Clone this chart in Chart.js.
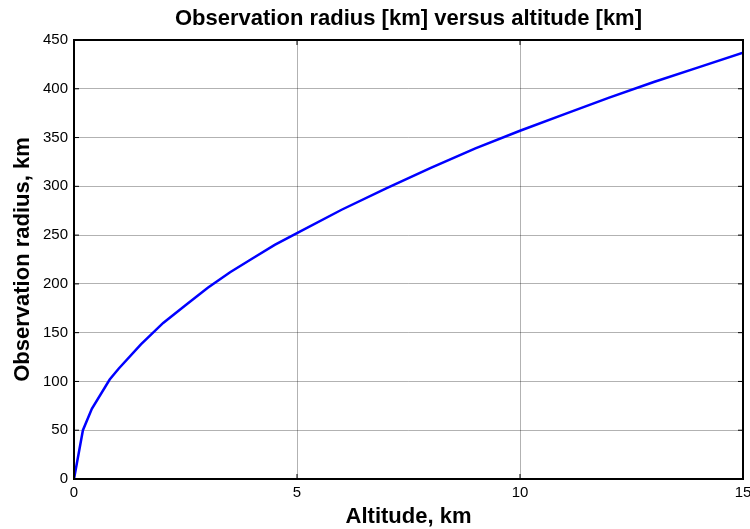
<!DOCTYPE html>
<html>
<head>
<meta charset="utf-8">
<script src="https://cdn.jsdelivr.net/npm/chart.js@4/dist/chart.umd.min.js"></script>
<style>
  html, body { margin: 0; padding: 0; background: #fff; }
  #wrap { width: 750px; height: 529px; }
</style>
</head>
<body>
<div id="wrap"><canvas id="radius-chart"></canvas></div>
<script>
// altitude in km, observation radius in km
const altitude = [0, 0.2, 0.4, 0.8, 1.0, 1.5, 2.0, 2.5, 3.0, 3.5, 4.0, 4.5, 5, 6, 7, 8, 9, 10, 11, 12, 13, 14, 15];
const radius = [0, 50, 72, 102, 113, 138, 160, 178, 196, 212, 226, 240, 252, 276, 298, 319, 339, 357, 374, 391, 407, 422, 437];

const chartTitle = 'Observation radius [km] versus altitude [km]';
const xTitle = 'Altitude, km';
const yTitle = 'Observation radius, km';

const fontFamily = 'Arial, "Liberation Sans", Helvetica, sans-serif';

// matlab style box with inward tick marks, title centred over the axes
const boxPlugin = {
    id: 'box',
    afterLayout(chart) {
        const t = chart.titleBlock;
        if (t) {
            t.left = chart.chartArea.left;
            t.right = chart.chartArea.right;
            t.width = t.right - t.left;
        }
    },
    afterDraw(chart) {
        const ctx = chart.ctx;
        const a = chart.chartArea;
        const xs = chart.scales.x;
        const ys = chart.scales.y;
        ctx.save();
        ctx.strokeStyle = '#000';
        ctx.lineWidth = 1;
        xs.ticks.forEach(t => {
            const px = xs.getPixelForValue(t.value);
            ctx.beginPath();
            ctx.moveTo(px, a.bottom); ctx.lineTo(px, a.bottom - 5);
            ctx.moveTo(px, a.top); ctx.lineTo(px, a.top + 5);
            ctx.stroke();
        });
        ys.ticks.forEach(t => {
            const py = ys.getPixelForValue(t.value);
            ctx.beginPath();
            ctx.moveTo(a.left, py); ctx.lineTo(a.left + 5, py);
            ctx.moveTo(a.right, py); ctx.lineTo(a.right - 5, py);
            ctx.stroke();
        });
        ctx.lineWidth = 2;
        ctx.strokeRect(a.left, a.top, a.right - a.left, a.bottom - a.top);
        ctx.restore();
    }
};

new Chart(document.querySelector('#radius-chart').getContext('2d'), {
    type: 'line',
    data: {
        datasets: [{
            label: 'radius',
            data: altitude.map((h, i) => ({ x: h, y: radius[i] })),
            borderColor: '#0000ff',
            backgroundColor: '#0000ff',
            borderWidth: 2.5,
            pointRadius: 0,
            tension: 0,
            fill: false
        }]
    },
    options: {
        responsive: true,
        maintainAspectRatio: false,
        animation: false,
        layout: { padding: { top: 0, left: 0, right: 7, bottom: 0 } },
        plugins: {
            legend: { display: false },
            tooltip: { enabled: false },
            title: {
                display: true,
                text: chartTitle,
                color: '#000',
                font: { family: fontFamily, size: 22, weight: 'bold' },
                padding: { top: 6, bottom: 7.6 }
            }
        },
        scales: {
            x: {
                type: 'linear',
                min: 0,
                max: 15,
                ticks: {
                    stepSize: 5,
                    color: '#000',
                    padding: 5,
                    maxRotation: 0,
                    font: { family: fontFamily, size: 15 }
                },
                grid: { color: 'rgba(0,0,0,0.3)', drawTicks: false },
                border: { display: false },
                title: {
                    display: true,
                    text: xTitle,
                    color: '#000',
                    font: { family: fontFamily, size: 22, weight: 'bold' },
                    padding: { top: 0, bottom: -1 }
                },
                afterFit(scale) {
                    scale.height = 50;
                    scale.paddingLeft = 0;
                    scale.paddingRight = 0;
                }
            },
            y: {
                min: 0,
                max: 450,
                ticks: {
                    stepSize: 50,
                    color: '#000',
                    padding: 6,
                    font: { family: fontFamily, size: 15 }
                },
                grid: { color: 'rgba(0,0,0,0.3)', drawTicks: false },
                border: { display: false },
                title: {
                    display: true,
                    text: yTitle,
                    color: '#000',
                    font: { family: fontFamily, size: 22, weight: 'bold' },
                    padding: { top: 10, bottom: 0 }
                },
                afterFit(scale) {
                    scale.width = 74;
                }
            }
        }
    },
    plugins: [boxPlugin]
});
</script>
</body>
</html>
